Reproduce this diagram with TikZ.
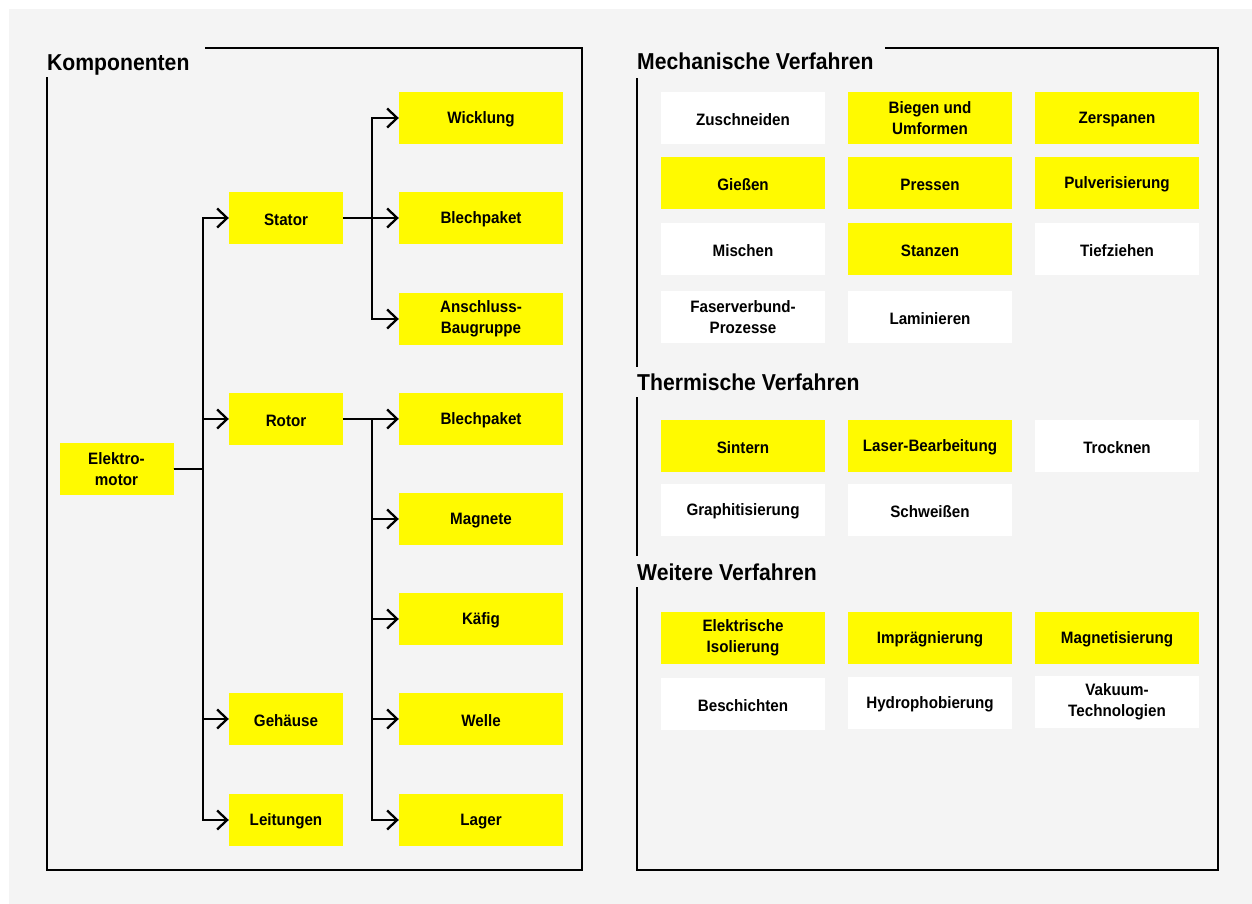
\documentclass[tikz,border=0pt]{standalone}
\usepackage{fontspec}
\setmainfont{Liberation Sans}[FakeStretch=0.92]
\usetikzlibrary{arrows.meta}
\definecolor{panel}{HTML}{F4F4F4}
\definecolor{hilite}{RGB}{255,250,0}
\begin{document}
\begin{tikzpicture}[x=1pt,y=-1pt,
  frame/.style={line width=2.3pt, line cap=rect},
  conn/.style={line width=2.3pt},
  arr/.style={conn, -{Straight Barb[length=10pt,width=19pt,line join=miter]}},
  card/.style={minimum width=164pt, minimum height=52pt, inner sep=0pt, align=center,
    font=\fontsize{16.5}{21}\selectfont\bfseries,
    execute at begin node={\rule{0pt}{15pt}}},
  ybox/.style={card, fill=hilite},
  wbox/.style={card, fill=white},
  kbox/.style={ybox, minimum width=114pt},
  heading/.style={anchor=base west, inner sep=0pt, font=\fontsize{23}{26}\selectfont\bfseries}]

\useasboundingbox (0,0) rectangle (1252,904);
\fill[white] (0,0) rectangle (1252,904);
\fill[panel] (9,9) rectangle (1252,904);

% ---------------- Komponenten ----------------
\draw[frame] (206,48) -- (582,48) -- (582,870) -- (47,870) -- (47,78);
\node[heading] (tkomp) at (47,70.5) {Komponenten};

\node[kbox] (em) at (116.5,469) {Elektro-\\motor};
\node[kbox] (stator) at (286,218) {Stator};
\node[kbox] (rotor) at (286,419) {Rotor};
\node[kbox] (gehaeuse) at (286,719) {Gehäuse};
\node[kbox] (leit) at (286,820) {Leitungen};

\node[ybox] (wick) at (481,118) {Wicklung};
\node[ybox] (bps) at (481,218) {Blechpaket};
\node[ybox] (ansch) at (481,319) {Anschluss-\\Baugruppe};
\node[ybox] (bpr) at (481,419) {Blechpaket};
\node[ybox] (magn) at (481,519) {Magnete};
\node[ybox] (kaef) at (481,619) {Käfig};
\node[ybox] (welle) at (481,719) {Welle};
\node[ybox] (lager) at (481,820) {Lager};

\coordinate (busA) at (203,0);
\coordinate (busS) at (372,0);
\coordinate (busR) at (372,0);

\foreach \t in {stator,rotor,gehaeuse,leit}
  \draw[arr] (em.east) -| (busA |- \t.west) -- (\t.west);

\draw[arr] (stator.east) -- (bps.west);
\foreach \t in {wick,ansch}
  \draw[arr] (busS |- stator.east) |- (\t.west);

\draw[arr] (rotor.east) -- (bpr.west);
\foreach \t in {magn,kaef,welle,lager}
  \draw[arr] (busR |- rotor.east) |- (\t.west);

% ---------------- Verfahren ----------------
\draw[frame] (886,48) -- (1218,48) -- (1218,870) -- (637,870) -- (637,588);
\draw[frame] (637,555) -- (637,398);
\draw[frame] (637,366) -- (637,79);

\node[heading] (tmech) at (637,69.5) {Mechanische Verfahren};
\node[heading] (ttherm) at (637,390.5) {Thermische Verfahren};
\node[heading] (tweit) at (637,580) {Weitere Verfahren};

% mechanical
\node[wbox] (m11) at (743,118) {Zuschneiden};
\node[ybox] (m12) at (930,118) {Biegen und\\Umformen};
\node[ybox] (m13) at (1117,118) {Zerspanen};
\node[ybox] (m21) at (743,183) {Gießen};
\node[ybox] (m22) at (930,183) {Pressen};
\node[ybox] (m23) at (1117,183) {Pulverisierung};
\node[wbox] (m31) at (743,249) {Mischen};
\node[ybox] (m32) at (930,249) {Stanzen};
\node[wbox] (m33) at (1117,249) {Tiefziehen};
\node[wbox] (m41) at (743,317) {Faserverbund-\\Prozesse};
\node[wbox] (m42) at (930,317) {Laminieren};

% thermal
\node[ybox] (t11) at (743,446) {Sintern};
\node[ybox] (t12) at (930,446) {Laser-Bearbeitung};
\node[wbox] (t13) at (1117,446) {Trocknen};
\node[wbox] (t21) at (743,510) {Graphitisierung};
\node[wbox] (t22) at (930,510) {Schweißen};

% further
\node[ybox] (w11) at (743,638) {Elektrische\\Isolierung};
\node[ybox] (w12) at (930,638) {Imprägnierung};
\node[ybox] (w13) at (1117,638) {Magnetisierung};
\node[wbox] (w21) at (743,704) {Beschichten};
\node[wbox] (w22) at (930,703) {Hydrophobierung};
\node[wbox] (w23) at (1117,702) {Vakuum-\\Technologien};
\end{tikzpicture}
\end{document}
